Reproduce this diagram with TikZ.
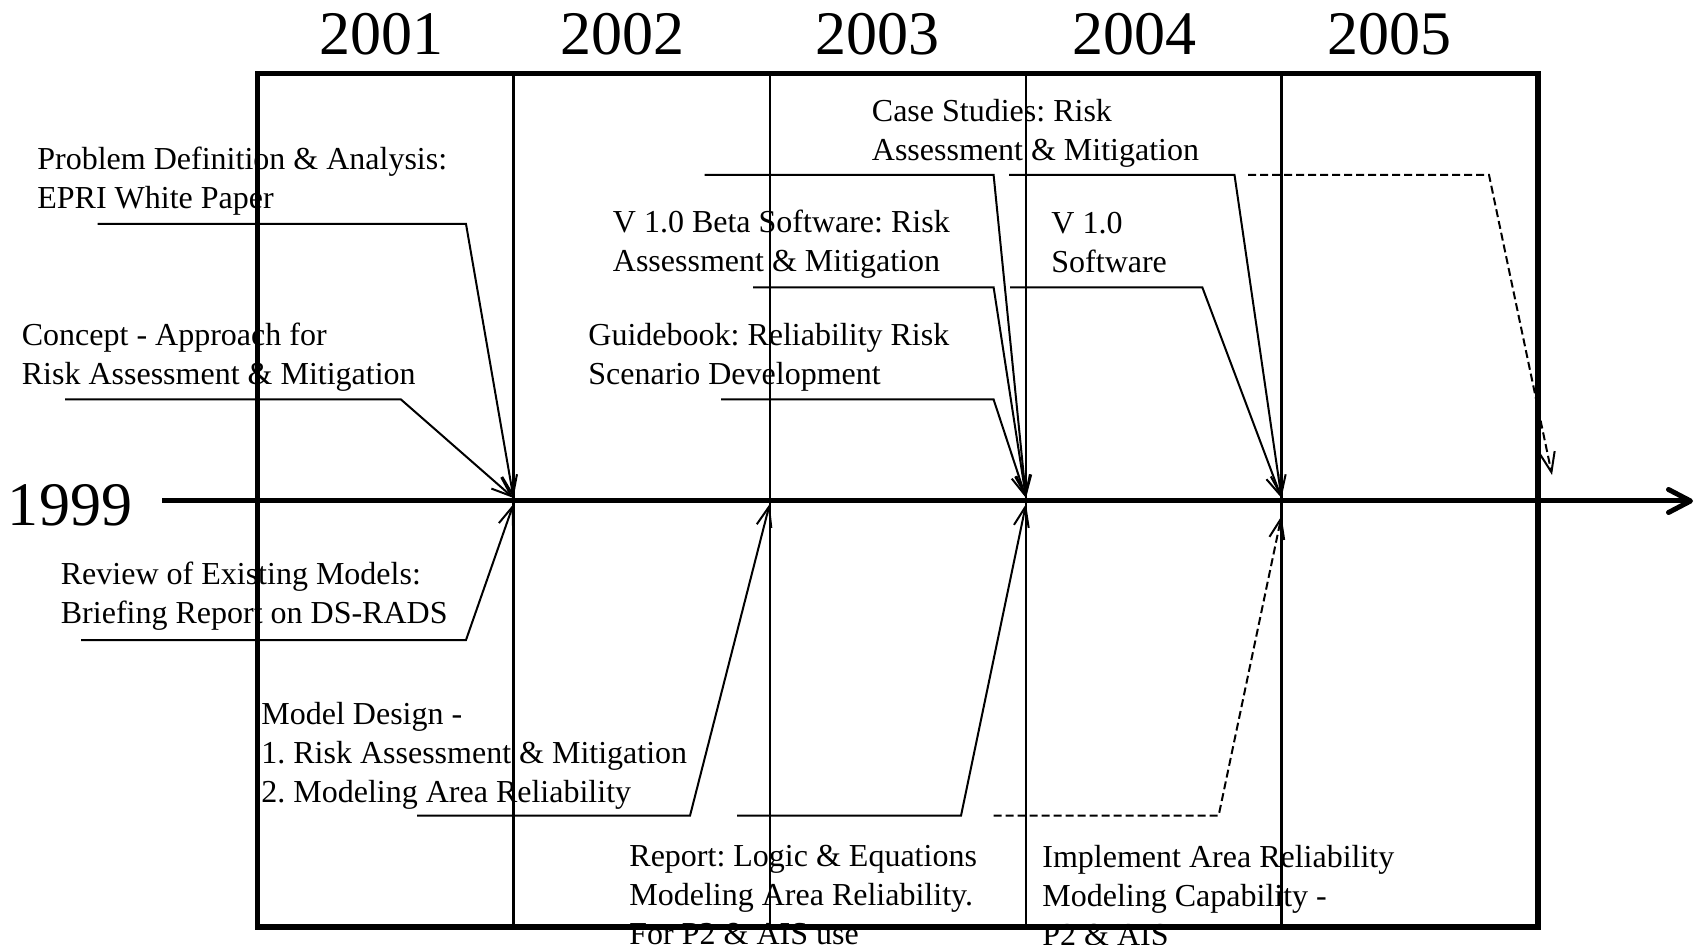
\documentclass[tikz,border=0pt]{standalone}
\usepackage{fontspec}
\setmainfont{Liberation Serif}
\usetikzlibrary{arrows.meta}
\frenchspacing
\begin{document}
\begin{tikzpicture}[x=0.5pt,y=-0.5pt,
  lbl/.style={anchor=north west, inner sep=0pt, align=left, font=\fontsize{16}{19.5}\selectfont},
  yr/.style={anchor=base, inner sep=0pt, font=\fontsize{31}{37}\selectfont},
  gridline/.style={line width=1.1pt},
  framebox/.style={line width=2.75pt},
  conn/.style={line width=1pt, -{Straight Barb[length=10pt,width=7.5pt]}},
  dconn/.style={conn, dash pattern=on 4pt off 2pt},
  axisline/.style={line width=2.5pt, -{Straight Barb[length=11pt,width=11.5pt,round]}}
]
\useasboundingbox (0,0) rectangle (1700,945);

% year labels
\node[yr] (y2001) at (381,55) {2001};
\node[yr] (y2002) at (622,55) {2002};
\node[yr] (y2003) at (877,55) {2003};
\node[yr] (y2004) at (1134,55) {2004};
\node[yr] (y2005) at (1389,55) {2005};
\node[yr] (y1999) at (70,525) {1999};

% event labels
\node[lbl] (pd) at (37,147) {Problem Definition \& Analysis:\\EPRI White Paper};
\node[lbl] (cp) at (21.5,322.5) {Concept - Approach for\\Risk Assessment \& Mitigation};
\node[lbl] (rv) at (60.5,562) {Review of Existing Models:\\Briefing Report on DS-RADS};
\node[lbl] (md) at (261,701.5) {Model Design -\\1. Risk Assessment \& Mitigation\\2. Modeling Area Reliability};
\node[lbl] (rp) at (629,845) {Report: Logic \& Equations\\Modeling Area Reliability.\\For P2 \& AIS use};
\node[lbl] (im) at (1042,845) {Implement Area Reliability\\Modeling Capability -\\P2 \& AIS};
\node[lbl] (vb) at (612.5,210) {V 1.0 Beta Software: Risk\\Assessment \& Mitigation};
\node[lbl] (gb) at (588,323) {Guidebook: Reliability Risk\\Scenario Development};
\node[lbl] (cs) at (871.5,99) {Case Studies: Risk\\Assessment \& Mitigation};
\node[lbl] (v1) at (1051,211.5) {V 1.0\\Software};

% grid
\draw[gridline] (513.5,73.3) -- (513.5,927);
\draw[gridline] (769.7,73.3) -- (769.7,927);
\draw[gridline] (1026,73.3) -- (1026,927);
\draw[gridline] (1281.5,73.3) -- (1281.5,927);
\draw[framebox] (257.5,73.3) rectangle (1538,927);

% axis
\coordinate (axL) at (162,501);
\coordinate (axR) at (1693,501);
\draw[axisline] (axL) -- (axR);

% arrow targets on the axis
\coordinate (t1u) at (513.5,498);
\coordinate (t1d) at (513.5,504);
\coordinate (t2d) at (769.7,504);
\coordinate (t3u) at (1026,498);
\coordinate (t3d) at (1026,504);
\coordinate (t4u) at (1281.5,498);
\coordinate (t4d) at (1281.5,516);
\coordinate (t5u) at (1552,475);

% connector start / corner points
\coordinate (pd-s) at (97.6,224);  \coordinate (pd-k) at (466,224);
\coordinate (cp-s) at (65,399.5);  \coordinate (cp-k) at (401,399.5);
\coordinate (rv-s) at (81,640);    \coordinate (rv-k) at (466,640);
\coordinate (md-s) at (417,815.7); \coordinate (md-k) at (690,815.7);
\coordinate (rp-s) at (737,815.7); \coordinate (rp-k) at (961,815.7);
\coordinate (im-s) at (993.6,815.7); \coordinate (im-k) at (1218.6,815.7);
\coordinate (cs-s) at (704.6,175); \coordinate (cs-k) at (993.6,175);
\coordinate (vb-s) at (753,287.3); \coordinate (vb-k) at (993.6,287.3);
\coordinate (gb-s) at (721,399.5); \coordinate (gb-k) at (993.6,399.5);
\coordinate (cs2-s) at (1009,175); \coordinate (cs2-k) at (1234.5,175);
\coordinate (v1-s) at (1010,287.3); \coordinate (v1-k) at (1202.3,287.3);
\coordinate (fx-s) at (1248,175);  \coordinate (fx-k) at (1489,175);

% connectors
\draw[conn] (pd-s) -- (pd-k) -- (t1u);
\draw[conn] (cp-s) -- (cp-k) -- (t1u);
\draw[conn] (rv-s) -- (rv-k) -- (t1d);
\draw[conn] (md-s) -- (md-k) -- (t2d);
\draw[conn] (rp-s) -- (rp-k) -- (t3d);
\draw[dconn] (im-s) -- (im-k) -- (t4d);
\draw[conn] (cs-s) -- (cs-k) -- (t3u);
\draw[conn] (vb-s) -- (vb-k) -- (t3u);
\draw[conn] (gb-s) -- (gb-k) -- (t3u);
\draw[conn] (cs2-s) -- (cs2-k) -- (t4u);
\draw[conn] (v1-s) -- (v1-k) -- (t4u);
\draw[dconn] (fx-s) -- (fx-k) -- (t5u);
\end{tikzpicture}
\end{document}
